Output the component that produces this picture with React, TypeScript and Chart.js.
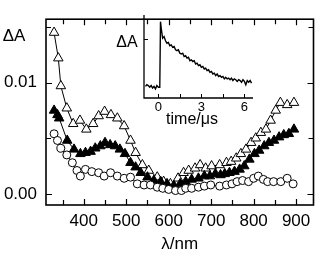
import React, { useEffect, useRef } from "react";
import { Chart, registerables } from "chart.js";

Chart.register(...registerables);

const FONT = "'Liberation Sans', Arial, Helvetica, sans-serif";

// Main plot: wavelength (nm) vs ΔA
const openTriWl = [330, 340, 346, 360, 375, 391, 406, 422, 435, 449, 464, 479, 495, 510, 522, 538, 553, 573, 588, 604, 622, 635, 647, 662, 674, 687, 701, 720, 736, 747, 759, 770, 782, 794, 805, 817, 829, 840, 852, 863, 879, 895];
const openTriVal = [0.0145, 0.0122, 0.0097, 0.0077, 0.0063, 0.0066, 0.0058, 0.0063, 0.007, 0.0074, 0.0071, 0.0068, 0.0061, 0.0048, 0.0037, 0.0026, 0.0021, 0.0015, 0.0011, 0.0009, 0.0014, 0.0019, 0.0021, 0.0023, 0.0026, 0.0023, 0.0025, 0.0026, 0.0028, 0.0029, 0.0032, 0.0036, 0.004, 0.0046, 0.005, 0.0055, 0.0058, 0.0066, 0.0075, 0.0082, 0.008, 0.0082];

const filledTriWl = [330, 338, 342, 361, 377, 392, 404, 416, 427, 439, 450, 462, 474, 485, 497, 510, 522, 534, 550, 565, 581, 596, 612, 627, 640, 654, 670, 684, 697, 710, 722, 732, 743, 755, 767, 778, 790, 802, 813, 825, 836, 848, 860, 871, 883, 895];
const filledTriVal = [0.0075, 0.0071, 0.0068, 0.0048, 0.004, 0.0036, 0.0037, 0.0038, 0.0041, 0.0043, 0.0046, 0.0044, 0.0043, 0.004, 0.0036, 0.0028, 0.0024, 0.0019, 0.0015, 0.0012, 0.0011, 0.0009, 0.00075, 0.0009, 0.0011, 0.0013, 0.0014, 0.0016, 0.0016, 0.0018, 0.0017, 0.0018, 0.0019, 0.002, 0.0022, 0.0025, 0.0031, 0.0036, 0.0039, 0.0043, 0.0046, 0.0048, 0.0051, 0.0053, 0.0054, 0.0058];

const circleWl = [330, 338, 346, 360, 373, 384, 392, 404, 419, 435, 448, 463, 479, 495, 510, 526, 542, 557, 573, 586, 600, 616, 630, 640, 654, 670, 684, 699, 720, 736, 749, 761, 774, 788, 800, 811, 823, 833, 847, 864, 879, 893];
const circleVal = [0.0054, 0.0048, 0.0041, 0.0035, 0.0028, 0.0021, 0.0016, 0.0022, 0.002, 0.0019, 0.0016, 0.0019, 0.0016, 0.0014, 0.0015, 0.0009, 0.0008, 0.0008, 0.0006, 0.0005, 0.0004, 0.0003, 0.0003, 0.0005, 0.0005, 0.0006, 0.0007, 0.0008, 0.0007, 0.0008, 0.0009, 0.0011, 0.0012, 0.0011, 0.0014, 0.0016, 0.0013, 0.0011, 0.0011, 0.0011, 0.0014, 0.0009];

// Inset: transient decay
const insetTime = [-0.9, -0.8, -0.7, -0.6, -0.5, -0.4, -0.3, -0.2, -0.1, 0, 0.1, 0.15, 0.2, 0.3, 0.4, 0.5, 0.6, 0.7, 0.8, 0.9, 1, 1.1, 1.2, 1.3, 1.4, 1.5, 1.6, 1.7, 1.8, 1.9, 2, 2.1, 2.2, 2.3, 2.4, 2.5, 2.6, 2.7, 2.8, 2.9, 3, 3.1, 3.2, 3.3, 3.4, 3.5, 3.6, 3.7, 3.8, 3.9, 4, 4.1, 4.2, 4.3, 4.4, 4.5, 4.6, 4.7, 4.8, 4.9, 5, 5.1, 5.2, 5.3, 5.4, 5.5, 5.6, 5.7, 5.8, 5.9, 6, 6.1, 6.2, 6.3, 6.4, 6.5];
const insetSignal = [0.14, 0.16, 0.15, 0.13, 0.15, 0.12, 0.14, 0.11, 0.15, 0.13, 0.13, 0.92, 0.84, 0.72, 0.74, 0.69, 0.66, 0.67, 0.63, 0.64, 0.61, 0.62, 0.58, 0.57, 0.58, 0.54, 0.53, 0.54, 0.5, 0.51, 0.48, 0.49, 0.45, 0.46, 0.44, 0.45, 0.41, 0.42, 0.39, 0.4, 0.37, 0.38, 0.35, 0.36, 0.33, 0.34, 0.31, 0.32, 0.29, 0.3, 0.27, 0.29, 0.26, 0.27, 0.25, 0.26, 0.23, 0.25, 0.23, 0.24, 0.22, 0.24, 0.21, 0.23, 0.22, 0.2, 0.22, 0.21, 0.19, 0.22, 0.2, 0.16, 0.21, 0.19, 0.21, 0.18];
const insetYTicks = [0.71];

const xLabel = "λ/nm";
const yLabel = "ΔA";
const insetXLabel = "time/μs";
const insetYLabel = "ΔA";

function pairs(xs: number[], ys: number[]) {
  return xs.map((x, i) => ({ x, y: ys[i] }));
}

const mainDecor = {
  id: "mainDecor",
  afterDraw(chart: any) {
    const { ctx, chartArea: a, scales } = chart;
    const xs = scales.x;
    const ys = scales.y;
    ctx.save();
    ctx.strokeStyle = "#000";
    ctx.lineWidth = 1.6;
    ctx.strokeRect(a.left, a.top, a.right - a.left, a.bottom - a.top);
    ctx.lineWidth = 1.2;
    ctx.beginPath();
    xs.ticks.forEach((t: any) => {
      const px = Math.round(xs.getPixelForValue(t.value)) + 0.5;
      const len = t.value % 100 === 0 ? 6 : 5;
      ctx.moveTo(px, a.bottom);
      ctx.lineTo(px, a.bottom - len);
      ctx.moveTo(px, a.top);
      ctx.lineTo(px, a.top + len);
    });
    ys.ticks.forEach((t: any) => {
      const py = Math.round(ys.getPixelForValue(t.value)) + 0.5;
      const major = Math.abs(Math.round(t.value * 1000)) % 10 === 0;
      const len = major ? 6 : 5;
      ctx.moveTo(a.left, py);
      ctx.lineTo(a.left + len, py);
      ctx.moveTo(a.right, py);
      ctx.lineTo(a.right - len, py);
    });
    ctx.stroke();
    ctx.fillStyle = "#000";
    ctx.font = `17px ${FONT}`;
    ctx.textAlign = "center";
    ctx.textBaseline = "middle";
    ctx.fillText(xLabel, (a.left + a.right) / 2, 244);
    ctx.fillText(yLabel, 14, 36);
    ctx.restore();
  },
};

const insetDecor = {
  id: "insetDecor",
  afterDraw(chart: any) {
    const { ctx, chartArea: a, scales } = chart;
    const xs = scales.x;
    const ys = scales.y;
    ctx.save();
    ctx.strokeStyle = "#000";
    ctx.lineWidth = 1.3;
    ctx.beginPath();
    ctx.moveTo(a.left, a.top);
    ctx.lineTo(a.left, a.bottom);
    ctx.lineTo(a.right, a.bottom);
    ctx.stroke();
    ctx.lineWidth = 1;
    ctx.beginPath();
    xs.ticks.forEach((t: any) => {
      const px = Math.round(xs.getPixelForValue(t.value)) + 0.5;
      ctx.moveTo(px, a.bottom);
      ctx.lineTo(px, a.bottom - 4);
    });
    insetYTicks.forEach((v) => {
      const py = Math.round(ys.getPixelForValue(v)) + 0.5;
      ctx.moveTo(a.left, py);
      ctx.lineTo(a.left + 4, py);
    });
    ctx.stroke();
    ctx.fillStyle = "#000";
    ctx.textAlign = "center";
    ctx.textBaseline = "middle";
    ctx.font = `16px ${FONT}`;
    ctx.fillText(insetXLabel, 82, 112);
    ctx.font = `16px ${FONT}`;
    ctx.fillText(insetYLabel, 17, 35);
    ctx.restore();
  },
};

export default function App() {
  const mainRef = useRef<HTMLCanvasElement>(null);
  const insetRef = useRef<HTMLCanvasElement>(null);

  useEffect(() => {
    document.body.style.margin = "0";
    const tickFont = { family: FONT, size: 17 };
    const main = new Chart(mainRef.current as HTMLCanvasElement, {
      type: "line",
      data: {
        datasets: [
          {
            data: pairs(circleWl, circleVal),
            borderColor: "#000",
            borderWidth: 1,
            backgroundColor: "#fff",
            pointStyle: "circle",
            pointRadius: 4,
            pointBorderWidth: 1,
            pointBorderColor: "#000",
            pointBackgroundColor: "#fff",
            tension: 0,
          },
          {
            data: pairs(filledTriWl, filledTriVal),
            borderColor: "#000",
            borderWidth: 1,
            backgroundColor: "#000",
            pointStyle: "triangle",
            pointRadius: 5.5,
            pointBorderWidth: 1,
            pointBorderColor: "#000",
            pointBackgroundColor: "#000",
            tension: 0,
          },
          {
            data: pairs(openTriWl, openTriVal),
            borderColor: "#000",
            borderWidth: 1,
            backgroundColor: "#fff",
            pointStyle: "triangle",
            pointRadius: 5.5,
            pointBorderWidth: 1,
            pointBorderColor: "#000",
            pointBackgroundColor: "#fff",
            tension: 0,
          },
        ],
      },
      options: {
        animation: false,
        responsive: false,
        devicePixelRatio: 1,
        layout: { padding: { top: 4, right: 6, left: 0, bottom: 0 } },
        plugins: { legend: { display: false }, tooltip: { enabled: false } },
        scales: {
          x: {
            type: "linear",
            min: 311,
            max: 941,
            grid: { display: false, drawTicks: false },
            border: { display: false },
            ticks: {
              stepSize: 50,
              includeBounds: false,
              autoSkip: false,
              maxRotation: 0,
              padding: 6,
              color: "#000",
              font: tickFont,
              callback: (v: any) => (Number(v) % 100 === 0 ? String(v) : ""),
            },
            afterFit: (s: any) => {
              s.height = 48;
            },
          },
          y: {
            type: "linear",
            min: -0.001,
            max: 0.0157,
            grid: { display: false, drawTicks: false },
            border: { display: false },
            ticks: {
              stepSize: 0.005,
              includeBounds: false,
              autoSkip: false,
              padding: 9,
              color: "#000",
              font: tickFont,
              callback: (v: any) =>
                Math.abs(Math.round(Number(v) * 1000)) % 10 === 0 ? Number(v).toFixed(2) : "",
            },
            afterFit: (s: any) => {
              s.width = 46;
            },
          },
        },
      },
      plugins: [mainDecor],
    } as any);

    const inset = new Chart(insetRef.current as HTMLCanvasElement, {
      type: "line",
      data: {
        datasets: [
          {
            data: pairs(insetTime, insetSignal),
            borderColor: "#000",
            borderWidth: 1.4,
            pointRadius: 0,
            tension: 0,
            fill: false,
          },
        ],
      },
      options: {
        animation: false,
        responsive: false,
        devicePixelRatio: 1,
        layout: { padding: { top: 7, right: 7, left: 0, bottom: 0 } },
        plugins: { legend: { display: false }, tooltip: { enabled: false } },
        scales: {
          x: {
            type: "linear",
            min: -1,
            max: 6.6,
            grid: { display: false, drawTicks: false },
            border: { display: false },
            ticks: {
              stepSize: 1.5,
              includeBounds: false,
              autoSkip: false,
              maxRotation: 0,
              padding: 2,
              color: "#000",
              font: { family: FONT, size: 13 },
              callback: (v: any) => (Number(v) % 3 === 0 ? String(v) : ""),
            },
            afterFit: (s: any) => {
              s.height = 32;
            },
          },
          y: {
            type: "linear",
            min: 0,
            max: 1,
            grid: { display: false, drawTicks: false },
            border: { display: false },
            ticks: { display: false },
            afterFit: (s: any) => {
              s.width = 34;
            },
          },
        },
      },
      plugins: [insetDecor],
    } as any);

    return () => {
      main.destroy();
      inset.destroy();
    };
  }, []);

  return (
    <div style={{ position: "relative", width: 320, height: 253, background: "#fff" }}>
      <canvas
        ref={mainRef}
        width={320}
        height={253}
        style={{ position: "absolute", left: 0, top: 0, width: 320, height: 253 }}
      />
      <canvas
        ref={insetRef}
        width={150}
        height={122}
        style={{ position: "absolute", left: 110, top: 8, width: 150, height: 122 }}
      />
    </div>
  );
}
